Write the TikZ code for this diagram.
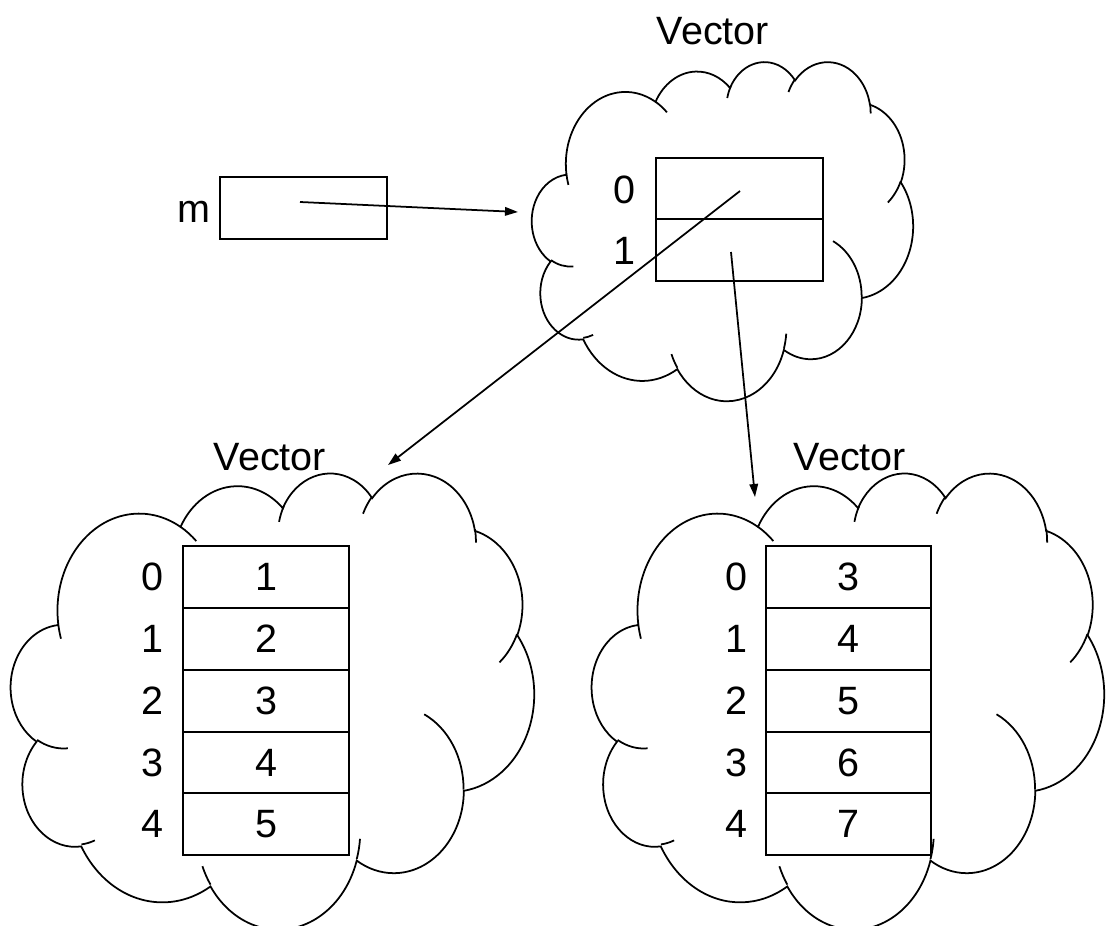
\documentclass[tikz,border=0pt]{standalone}
\usepackage{fontspec}
\setmainfont{Liberation Sans}
\usetikzlibrary{arrows.meta}
\tikzset{
  carc/.style n args={4}{insert path={arc[x radius=#1, y radius=#2,
    start angle={atan2((#1)*sin(#3),(#2)*cos(#3))},
    delta angle={mod(atan2((#1)*sin((#3)+(#4)),(#2)*cos((#3)+(#4)))-atan2((#1)*sin(#3),(#2)*cos(#3))+720,360)}]}},
  cloudline/.style={line width=1pt, black},
  cell/.style={draw, line width=1.1pt, minimum width=3.32cm, minimum height=1.235cm, inner sep=0pt},
  lbl/.style={inner sep=0pt, font=\fontsize{22.5}{27}\selectfont},
  arr/.style={line width=1pt, -{Triangle[length=2.6mm,width=1.7mm]}}
}
\newcommand\mycloud[4]{%
  \begin{scope}[shift={(#1,#2)}, x=1cm, y=1cm, xscale={#3*0.02/43.2}, yscale={-#4*0.02/43.2}]
    \draw[cloudline] (3.900,14.370)
      [carc={6.753}{9.190}{-190.4875}{123.7805}]
      [carc={5.333}{7.267}{-144.1024}{89.9452}]
      [carc={4.365}{5.945}{-145.8079}{99.7230}]
      [carc={4.857}{6.595}{-130.9861}{117.2417}]
      [carc={5.333}{7.273}{-78.7089}{109.0269}]
      [carc={6.775}{9.220}{-46.2673}{130.2690}]
      [carc={5.785}{7.867}{0.6250}{114.0333}]
      [carc={6.752}{9.215}{22.4516}{115.1726}]
      [carc={7.720}{10.543}{66.2426}{75.7110}]
      [carc={4.360}{5.918}{-274.9421}{146.7356}]
      [carc={4.345}{5.945}{-246.8285}{152.5189}] -- cycle;
    \draw[cloudline]
      (4.693,26.177) [carc={4.345}{5.945}{86.7420}{26.4295}]
      (6.928,34.899) [carc={4.360}{5.918}{73.6105}{11.4475}]
      (16.478,39.090) [carc={6.752}{9.215}{137.6242}{14.0811}]
      (28.827,34.751) [carc={6.752}{9.215}{6.4533}{15.9984}]
      (34.129,22.954) [carc={5.785}{7.867}{-70.2924}{70.9174}]
      (41.798,15.354) [carc={5.333}{7.273}{30.3180}{27.7515}]
      (38.324,5.426) [carc={4.857}{6.595}{-13.7443}{14.8589}]
      (29.078,3.952) [carc={4.857}{6.595}{-149.1815}{18.1954}]
      (22.141,4.720) [carc={4.365}{5.945}{-163.4943}{19.0008}]
      (14.000,5.192) [carc={6.753}{9.190}{-66.7070}{12.3194}]
      (4.127,15.789) [carc={6.753}{9.190}{157.6544}{11.8582}];
  \end{scope}%
}
\begin{document}
\begin{tikzpicture}[x=0.02cm, y=-0.02cm]
\useasboundingbox (0,0) rectangle (1106,926);
% clouds
\mycloud{532}{61}{381}{339}
\mycloud{11}{472}{523}{456}
\mycloud{592}{472}{512}{456}
% top vector
\node[lbl] (vt) at (713,31) {Vector};
\node[cell, minimum width=3.34cm, minimum height=1.23cm] (t0) at (739.5,188.5) {};
\node[cell, minimum width=3.34cm, minimum height=1.23cm] (t1) at (739.5,250) {};
\node[lbl] (ti0) at (624,190) {0};
\node[lbl] (ti1) at (624,251) {1};
% m
\node[draw, line width=1.1pt, minimum width=3.34cm, minimum height=1.24cm, inner sep=0pt] (m) at (303.5,208) {};
\node[lbl] (ml) at (194,212) {m};
% left vector
\node[lbl] (vl) at (270,457) {Vector};
\foreach \i/\v in {0/1,1/2,2/3,3/4,4/5}{
  \node[cell] (l\i) at (266,{577+61.8*\i}) {};
  \node[lbl] (lv\i) at (l\i.center) {\v};
  \node[lbl] (li\i) at (152,{577+61.8*\i}) {\i};
}
% right vector
\node[lbl] (vr) at (850,457) {Vector};
\foreach \i/\v in {0/3,1/4,2/5,3/6,4/7}{
  \node[cell, minimum width=3.30cm] (r\i) at (848.5,{577+61.8*\i}) {};
  \node[lbl] (rv\i) at (r\i.center) {\v};
  \node[lbl] (ri\i) at (736,{577+61.8*\i}) {\i};
}
% arrows
\coordinate (ms) at (300,202);
\coordinate (me) at (518,212);
\coordinate (s0) at (740,191);
\coordinate (e0) at (388,465);
\coordinate (s1) at (731,252);
\coordinate (e1) at (755,497);
\draw[arr] (ms) -- (me);
\draw[arr] (s0) -- (e0);
\draw[arr] (s1) -- (e1);
\end{tikzpicture}
\end{document}
